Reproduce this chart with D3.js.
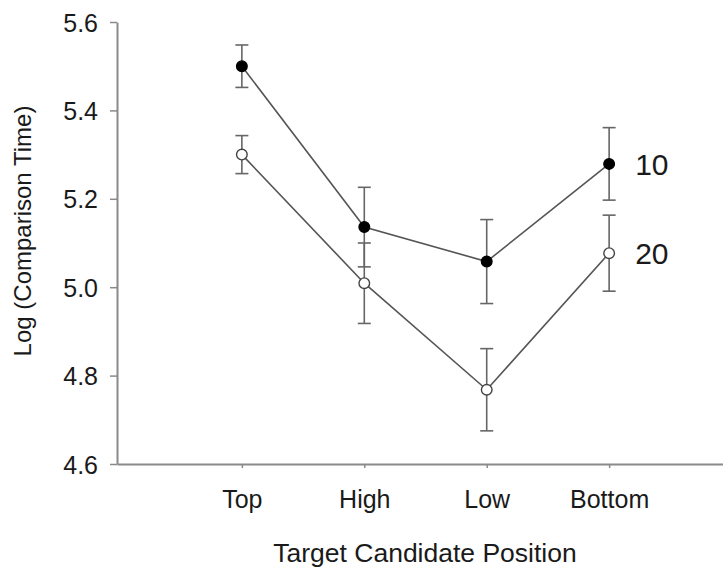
<!DOCTYPE html>
<html>
<head>
<meta charset="utf-8">
<script src="https://cdn.jsdelivr.net/npm/d3@7/dist/d3.min.js"></script>
<style>
  html, body { margin: 0; padding: 0; background: #fff; }
  svg { display: block; font-family: "Liberation Sans", Arial, Helvetica, sans-serif; }
</style>
</head>
<body>
<svg id="chart" width="723" height="567"></svg>
<script>
const categories = ["Top", "High", "Low", "Bottom"];
const seriesNames = ["10", "20"];
const means10 = [5.50, 5.136, 5.058, 5.279];
const errs10  = [0.048, 0.090, 0.095, 0.082];
const means20 = [5.300, 5.009, 4.768, 5.077];
const errs20  = [0.043, 0.091, 0.093, 0.086];
const yTicks = [4.6, 4.8, 5.0, 5.2, 5.4, 5.6];
const xTitle = "Target Candidate Position";
const yTitle = "Log (Comparison Time)";

const svg = d3.select("#chart");

const x = d3.scalePoint().domain(categories).range([117, 734]).padding(1.02);
const y = d3.scaleLinear().domain([4.6, 5.6]).range([464, 22]);

const axisColor = "#8a8a8a";
const textColor = "#1a1a1a";

// Y axis
const yAxis = svg.append("g").attr("transform", "translate(117,0)")
  .call(d3.axisLeft(y).tickValues(yTicks).tickFormat(d3.format(".1f")).tickSize(7).tickSizeOuter(0));
yAxis.select(".domain").attr("stroke", axisColor).attr("stroke-width", 2);
yAxis.selectAll(".tick line").attr("stroke", axisColor).attr("stroke-width", 1.5);
yAxis.selectAll(".tick text").attr("fill", textColor).attr("font-size", 25)
  .attr("font-family", "Liberation Sans, Arial, sans-serif").attr("x", -19).attr("dy", "0.36em");

// X axis
const xAxis = svg.append("g").attr("transform", "translate(0,464)")
  .call(d3.axisBottom(x).tickSize(4).tickSizeOuter(0));
xAxis.select(".domain").attr("stroke", axisColor).attr("stroke-width", 2);
xAxis.selectAll(".tick line").attr("stroke", axisColor).attr("stroke-width", 1.5);
xAxis.selectAll(".tick text").attr("fill", textColor).attr("font-size", 25)
  .attr("font-family", "Liberation Sans, Arial, sans-serif").attr("y", 44).attr("dy", 0);

// Titles
svg.append("text").attr("x", 425).attr("y", 562).attr("text-anchor", "middle")
  .attr("font-size", 26.5).attr("fill", textColor).text(xTitle);
svg.append("text").attr("transform", "translate(31,231) rotate(-90)").attr("text-anchor", "middle")
  .attr("font-size", 24).attr("fill", textColor).text(yTitle);

const series = [
  { name: seriesNames[0], means: means10, errs: errs10, filled: true },
  { name: seriesNames[1], means: means20, errs: errs20, filled: false }
];

const lineColor = "#555";
const line = d3.line().x((d, i) => x(categories[i])).y(d => y(d));

series.forEach(s => {
  svg.append("path").datum(s.means).attr("d", line)
    .attr("fill", "none").attr("stroke", lineColor).attr("stroke-width", 1.6);
});

series.forEach(s => {
  const g = svg.append("g");
  s.means.forEach((m, i) => {
    const cx = x(categories[i]);
    const y1 = y(m + s.errs[i]), y2 = y(m - s.errs[i]);
    g.append("line").attr("x1", cx).attr("x2", cx).attr("y1", y1).attr("y2", y2)
      .attr("stroke", "#666").attr("stroke-width", 1.6);
    [y1, y2].forEach(yy => g.append("line").attr("x1", cx - 6.5).attr("x2", cx + 6.5)
      .attr("y1", yy).attr("y2", yy).attr("stroke", "#666").attr("stroke-width", 1.6));
  });
});

series.forEach(s => {
  svg.append("g").selectAll("circle").data(s.means).join("circle")
    .attr("cx", (d, i) => x(categories[i])).attr("cy", d => y(d)).attr("r", 5.3)
    .attr("fill", s.filled ? "#000" : "#fff")
    .attr("stroke", s.filled ? "#000" : "#444").attr("stroke-width", 1.4);
});

// Series labels
series.forEach(s => {
  const last = s.means[s.means.length - 1];
  svg.append("text").attr("x", x(categories[categories.length - 1]) + 26)
    .attr("y", y(last)).attr("dy", "0.36em")
    .attr("font-size", 30).attr("fill", textColor).text(s.name);
});
</script>
</body>
</html>
